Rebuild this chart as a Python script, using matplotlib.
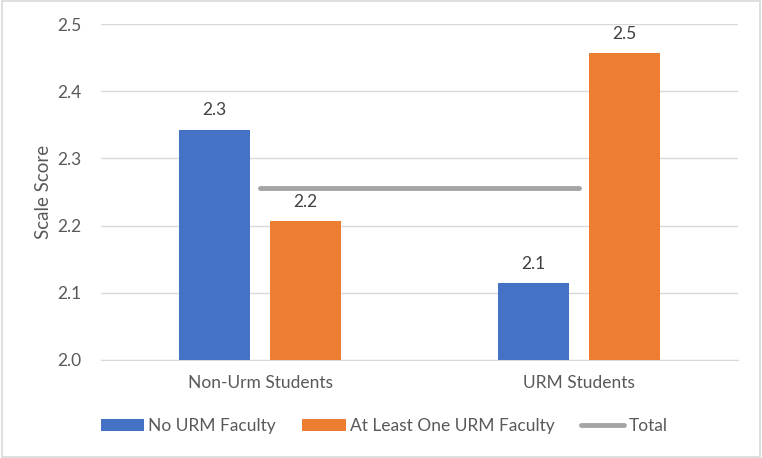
import numpy as np
import matplotlib.pyplot as plt
from matplotlib.patches import Rectangle

# ── dados ────────────────────────────────────────────────────────────────────
categories = ['Non-Urm Students', 'URM Students']
no_urm     = [2.343, 2.115]
at_least   = [2.207, 2.457]
total      = [2.256, 2.256]
series_names = ['No URM Faculty', 'At Least One URM Faculty', 'Total']
yticks = [2.0, 2.1, 2.2, 2.3, 2.4, 2.5]

BLUE, ORANGE, GRAY = '#4472C4', '#ED7D31', '#A5A5A5'
TXT = '#595959'

plt.rcParams['font.family'] = ['Lato', 'DejaVu Sans']

# ── figura ───────────────────────────────────────────────────────────────────
fig = plt.figure(figsize=(7.62, 4.58), dpi=100)
ax = fig.add_axes([0.1325, 0.214, 0.836, 0.7335])

x = np.arange(len(categories))
w = 0.223
off = 0.143

b1 = ax.bar(x - off, no_urm, width=w, color=BLUE, label=series_names[0], zorder=2)
b2 = ax.bar(x + off, at_least, width=w, color=ORANGE, label=series_names[1], zorder=2)
ln, = ax.plot(x, total, color=GRAY, lw=3.5, solid_capstyle='round',
              label=series_names[2], zorder=3)

for bars in (b1, b2):
    for r in bars:
        v = r.get_height()
        ax.annotate(f'{v:.1f}', xy=(r.get_x() + r.get_width() / 2, v),
                    xytext=(0, 8), textcoords='offset points',
                    ha='center', va='bottom', fontsize=12.5, color='#404040')

ax.set_xlim(-0.5, 1.5)
ax.set_ylim(2.0, 2.5)
ax.set_yticks(yticks)
ax.set_yticklabels([f'{t:.1f}' for t in yticks])
ax.set_xticks(x)
ax.set_xticklabels(categories)
ax.tick_params(axis='both', length=0, labelsize=12.5, colors=TXT)
ax.tick_params(axis='y', pad=14)
ax.tick_params(axis='x', pad=11)

ax.grid(axis='y', color='#D9D9D9', lw=1, zorder=0)
for s in ['top', 'right', 'left']:
    ax.spines[s].set_visible(False)
ax.spines['bottom'].set_color('#D9D9D9')
ax.spines['bottom'].set_zorder(1)

ax.set_ylabel('Scale Score', fontsize=13.5, color=TXT, labelpad=4)

fig.legend(handles=[b1, b2, ln], labels=series_names,
           loc='center', bbox_to_anchor=(0.504, 0.07), ncol=3, frameon=False,
           fontsize=12.5, labelcolor=TXT, handlelength=2.5, handleheight=0.7,
           handletextpad=0.25, columnspacing=1.5)

fig.patches.append(Rectangle((0.002, 0.003), 0.996, 0.994, transform=fig.transFigure,
                             fill=False, edgecolor='#D9D9D9', lw=1.2))

fig.savefig('out.png', dpi=100)
